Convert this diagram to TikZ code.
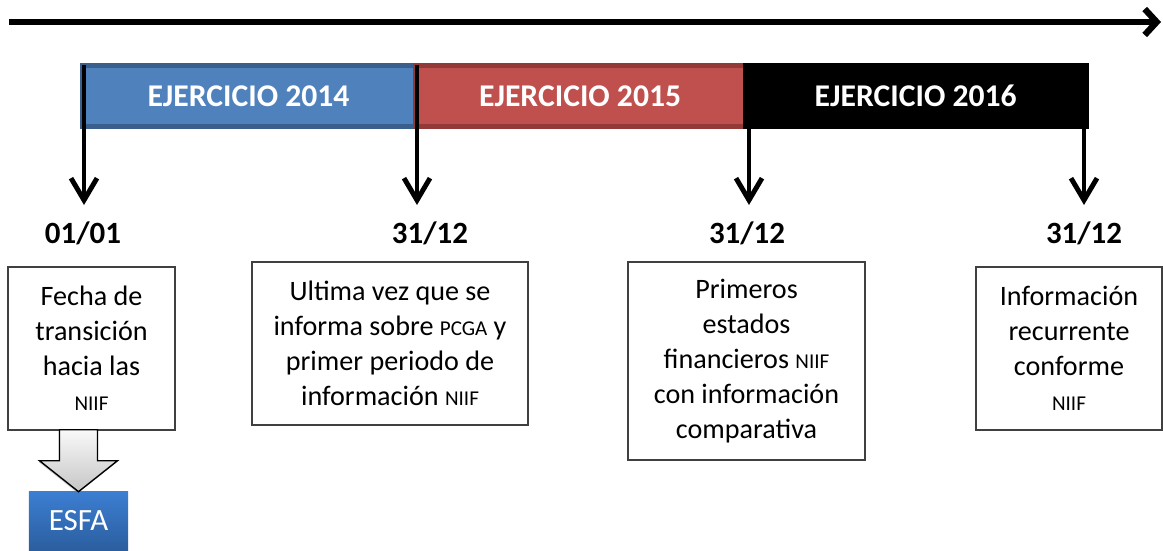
\documentclass[tikz,border=0pt]{standalone}
\usepackage{fontspec}
\setmainfont{Carlito}
\usepackage{xcolor}
\usepackage{tikz}
\usetikzlibrary{positioning}
\usetikzlibrary{arrows.meta, shadows}
\definecolor{blue14}{HTML}{4F81BD}
\definecolor{blue14dk}{HTML}{3B5F8D}
\definecolor{red15}{HTML}{C0504D}
\definecolor{red15dk}{HTML}{923A38}
\definecolor{esfatop}{HTML}{3C7ED2}
\definecolor{esfabot}{HTML}{2B5E9F}
\tikzstyle{timeline} = [line width=4.5pt,-{Straight Barb[length=3mm,width=6.5mm]}]
\tikzstyle{tick} = [line width=3.5pt,-{Straight Barb[length=5.5mm,width=6.5mm]}]
\tikzstyle{yearbar} = [anchor=west, inner sep=0pt, outer sep=0pt, minimum height=1.525cm, line width=3.5pt, text=white, font=\fontsize{22.5}{25}\selectfont\bfseries]
\tikzstyle{datelabel} = [anchor=base, font=\fontsize{22}{25}\selectfont\bfseries]
\tikzstyle{infobox} = [draw=black!75, line width=0.8pt, inner sep=0pt, align=center, font=\fontsize{20}{25}\selectfont]
\tikzstyle{blockarrow} = [draw=black, line width=1pt, top color=gray!5, bottom color=gray!45, drop shadow={shadow xshift=-0.6pt, shadow yshift=-1pt, opacity=0.35}]
\newcommand{\acr}[1]{{\fontsize{15}{25}\selectfont #1}}

\begin{document}
\begin{tikzpicture}[x=0.025cm, y=-0.025cm]
  \useasboundingbox (0,0) rectangle (1163,551);
  % time line
  \coordinate (tl0) at (9,22);
  \coordinate (tl1) at (1161,22);
  \draw[timeline] (tl0) -- (tl1);
  % years
  \node[yearbar, fill=blue14, draw=blue14dk, minimum width=8.325cm] (y14) at (82,96) {EJERCICIO 2014};
  \node[yearbar, fill=red15, draw=red15dk, minimum width=8.25cm, right=0pt of y14] (y15) {EJERCICIO 2015};
  \node[yearbar, fill=black, draw=black, minimum width=8.525cm, right=0pt of y15] (y16) {EJERCICIO 2016};
  % dates
  \node[datelabel] (d1) at (83,243) {01/01};
  \node[datelabel] (d2) at (430,243) {31/12};
  \node[datelabel] (d3) at (747,243) {31/12};
  \node[datelabel] (d4) at (1084,243) {31/12};
  \coordinate (t1) at (84,205);
  \coordinate (t2) at (417,205);
  \coordinate (t3) at (749,205);
  \coordinate (t4) at (1084,205);
  \draw[tick] (t1 |- y14.north) -- (t1);
  \draw[tick] (t2 |- y14.north) -- (t2);
  \draw[tick] (t3 |- y15.north) -- (t3);
  \draw[tick] (t4 |- y16.north) -- (t4);
  % boxes
  \node[infobox, minimum width=4.175cm, minimum height=4.075cm] (b1) at (91.5,348.5) {Fecha de\\transición\\hacia las\\\acr{NIIF}};
  \node[infobox, minimum width=6.9cm, minimum height=4.075cm] (b2) at (390,343.5) {Ultima vez que se\\informa sobre \acr{PCGA} y\\primer periodo de\\información \acr{NIIF}};
  \node[infobox, minimum width=5.925cm, minimum height=4.95cm] (b3) at (746.5,361) {Primeros\\estados\\financieros \acr{NIIF}\\con información\\comparativa};
  \node[infobox, minimum width=4.65cm, minimum height=4.075cm] (b4) at (1069,348.5) {Información\\recurrente\\conforme\\\acr{NIIF}};
  % ESFA
  \node[top color=esfatop, bottom color=esfabot, text=white, inner sep=0pt, minimum width=2.475cm, minimum height=1.45cm, font=\fontsize{22}{25}\selectfont] (esfa) at (78.5,521) {ESFA};
  \draw[blockarrow] (esfa.north) -- ++(39,-31) -- ++(-20,0) -- ++(0,-31) -- ++(-38,0) -- ++(0,31) -- ++(-20,0) -- cycle;
\end{tikzpicture}
\end{document}
